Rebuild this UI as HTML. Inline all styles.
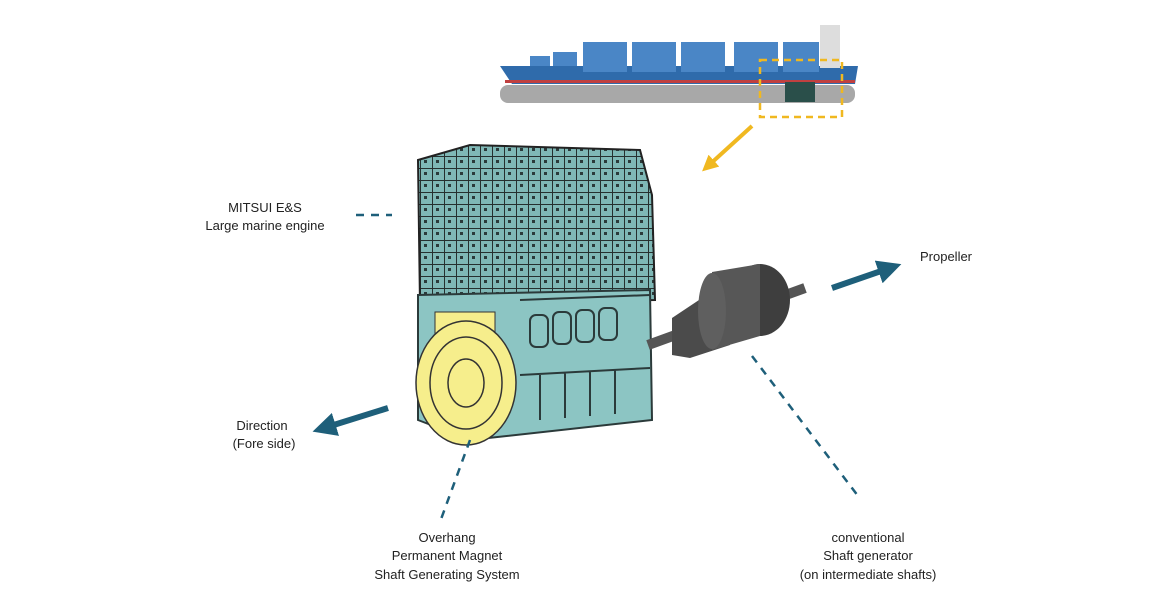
<!DOCTYPE html>
<html><head><style>
body{margin:0;background:#fff;width:1152px;height:604px;overflow:hidden;font-family:"Liberation Sans",sans-serif}
svg{position:absolute;left:0;top:0}
</style></head><body>
<svg width="1152" height="604" viewBox="0 0 1152 604">
<defs>
<marker id="ta" markerWidth="4" markerHeight="4" refX="2" refY="2" orient="auto" markerUnits="strokeWidth"><path d="M0,0 L4,2 L0,4 z" fill="#1e5f7a"/></marker>
<marker id="ya" markerWidth="4" markerHeight="4" refX="2" refY="2" orient="auto" markerUnits="strokeWidth"><path d="M0,0 L4,2 L0,4 z" fill="#f0b820"/></marker>
<pattern id="grid" width="12" height="12" patternUnits="userSpaceOnUse"><rect width="12" height="12" fill="#7fb8b6"/><path d="M0,0 H12 M0,0 V12" stroke="#26302f" stroke-width="2"/><rect x="4" y="4" width="3" height="3" fill="#2b3a3a"/></pattern>
</defs>
<!-- ship -->
<rect x="500" y="85" width="355" height="18" rx="8" fill="#a8a8a8"/>
<path d="M500,66 L858,66 L855,84 L512,84 Z" fill="#2f6bab"/>
<rect x="505" y="80" width="350" height="3" fill="#c04040"/>
<g fill="#4a86c6">
<rect x="530" y="56" width="20" height="10"/><rect x="553" y="52" width="24" height="14"/>
<rect x="583" y="42" width="44" height="30"/><rect x="632" y="42" width="44" height="30"/>
<rect x="681" y="42" width="44" height="30"/><rect x="734" y="42" width="44" height="30"/>
<rect x="783" y="42" width="36" height="30"/>
</g>
<rect x="820" y="25" width="20" height="43" fill="#ddd"/>
<rect x="785" y="82" width="30" height="20" fill="#2a4f4a"/>
<rect x="760" y="60" width="82" height="57" fill="none" stroke="#f0b820" stroke-width="2.5" stroke-dasharray="7,5"/>
<line x1="752" y1="126" x2="708" y2="166" stroke="#f0b820" stroke-width="4" marker-end="url(#ya)"/>
<!-- engine -->
<path d="M418,160 L470,145 L640,150 L652,195 L655,300 L420,305 Z" fill="url(#grid)" stroke="#222" stroke-width="2"/>
<path d="M418,295 L650,290 L652,420 L470,440 L418,420 Z" fill="#8cc5c3" stroke="#2b3a3a" stroke-width="2"/>
<g fill="none" stroke="#2b3a3a" stroke-width="2">
<rect x="530" y="315" width="18" height="32" rx="6"/><rect x="553" y="312" width="18" height="32" rx="6"/>
<rect x="576" y="310" width="18" height="32" rx="6"/><rect x="599" y="308" width="18" height="32" rx="6"/>
<path d="M520,375 L650,368 M540,375 V420 M565,373 V418 M590,372 V416 M615,370 V414 M520,300 L650,295"/>
</g>
<!-- yellow PM -->
<rect x="435" y="312" width="60" height="25" fill="#f6ee8c" stroke="#333"/>
<ellipse cx="466" cy="383" rx="50" ry="62" fill="#f6ee8c" stroke="#333" stroke-width="1.5"/>
<ellipse cx="466" cy="383" rx="36" ry="46" fill="none" stroke="#333" stroke-width="1.5"/>
<ellipse cx="466" cy="383" rx="18" ry="24" fill="none" stroke="#333" stroke-width="1.5"/>
<!-- shaft & generator -->
<line x1="648" y1="345" x2="805" y2="288" stroke="#555" stroke-width="10"/>
<path d="M672,318 L702,298 L730,290 L730,345 L690,358 L672,355 Z" fill="#4b4b4b"/>
<ellipse cx="760" cy="300" rx="30" ry="36" fill="#3e3e3e"/>
<path d="M712,272 L760,264 L760,336 L712,350 Z" fill="#575757"/>
<ellipse cx="712" cy="311" rx="14" ry="38" fill="#5f5f5f"/>
<!-- arrows -->
<line x1="832" y1="288" x2="890" y2="268" stroke="#1e5f7a" stroke-width="6" marker-end="url(#ta)"/>
<line x1="388" y1="408" x2="324" y2="428" stroke="#1e5f7a" stroke-width="6" marker-end="url(#ta)"/>
<!-- dashed -->
<g stroke="#1e5f7a" stroke-width="2.5" stroke-dasharray="8,7" fill="none">
<line x1="356" y1="215" x2="392" y2="215"/>
<line x1="470" y1="440" x2="440" y2="522"/>
<line x1="752" y1="356" x2="858" y2="496"/>
</g>
<g font-family="Liberation Sans, sans-serif" font-size="13" fill="#222" text-anchor="middle">
<text x="265" y="212">MITSUI E&amp;S</text>
<text x="265" y="230">Large marine engine</text>
<text x="946" y="261">Propeller</text>
<text x="262" y="430">Direction</text>
<text x="264" y="448">(Fore side)</text>
<text x="447" y="542">Overhang</text>
<text x="447" y="560">Permanent Magnet</text>
<text x="447" y="579">Shaft Generating System</text>
<text x="868" y="542">conventional</text>
<text x="868" y="560">Shaft generator</text>
<text x="868" y="579">(on intermediate shafts)</text>
</g>
</svg>
</body></html>
